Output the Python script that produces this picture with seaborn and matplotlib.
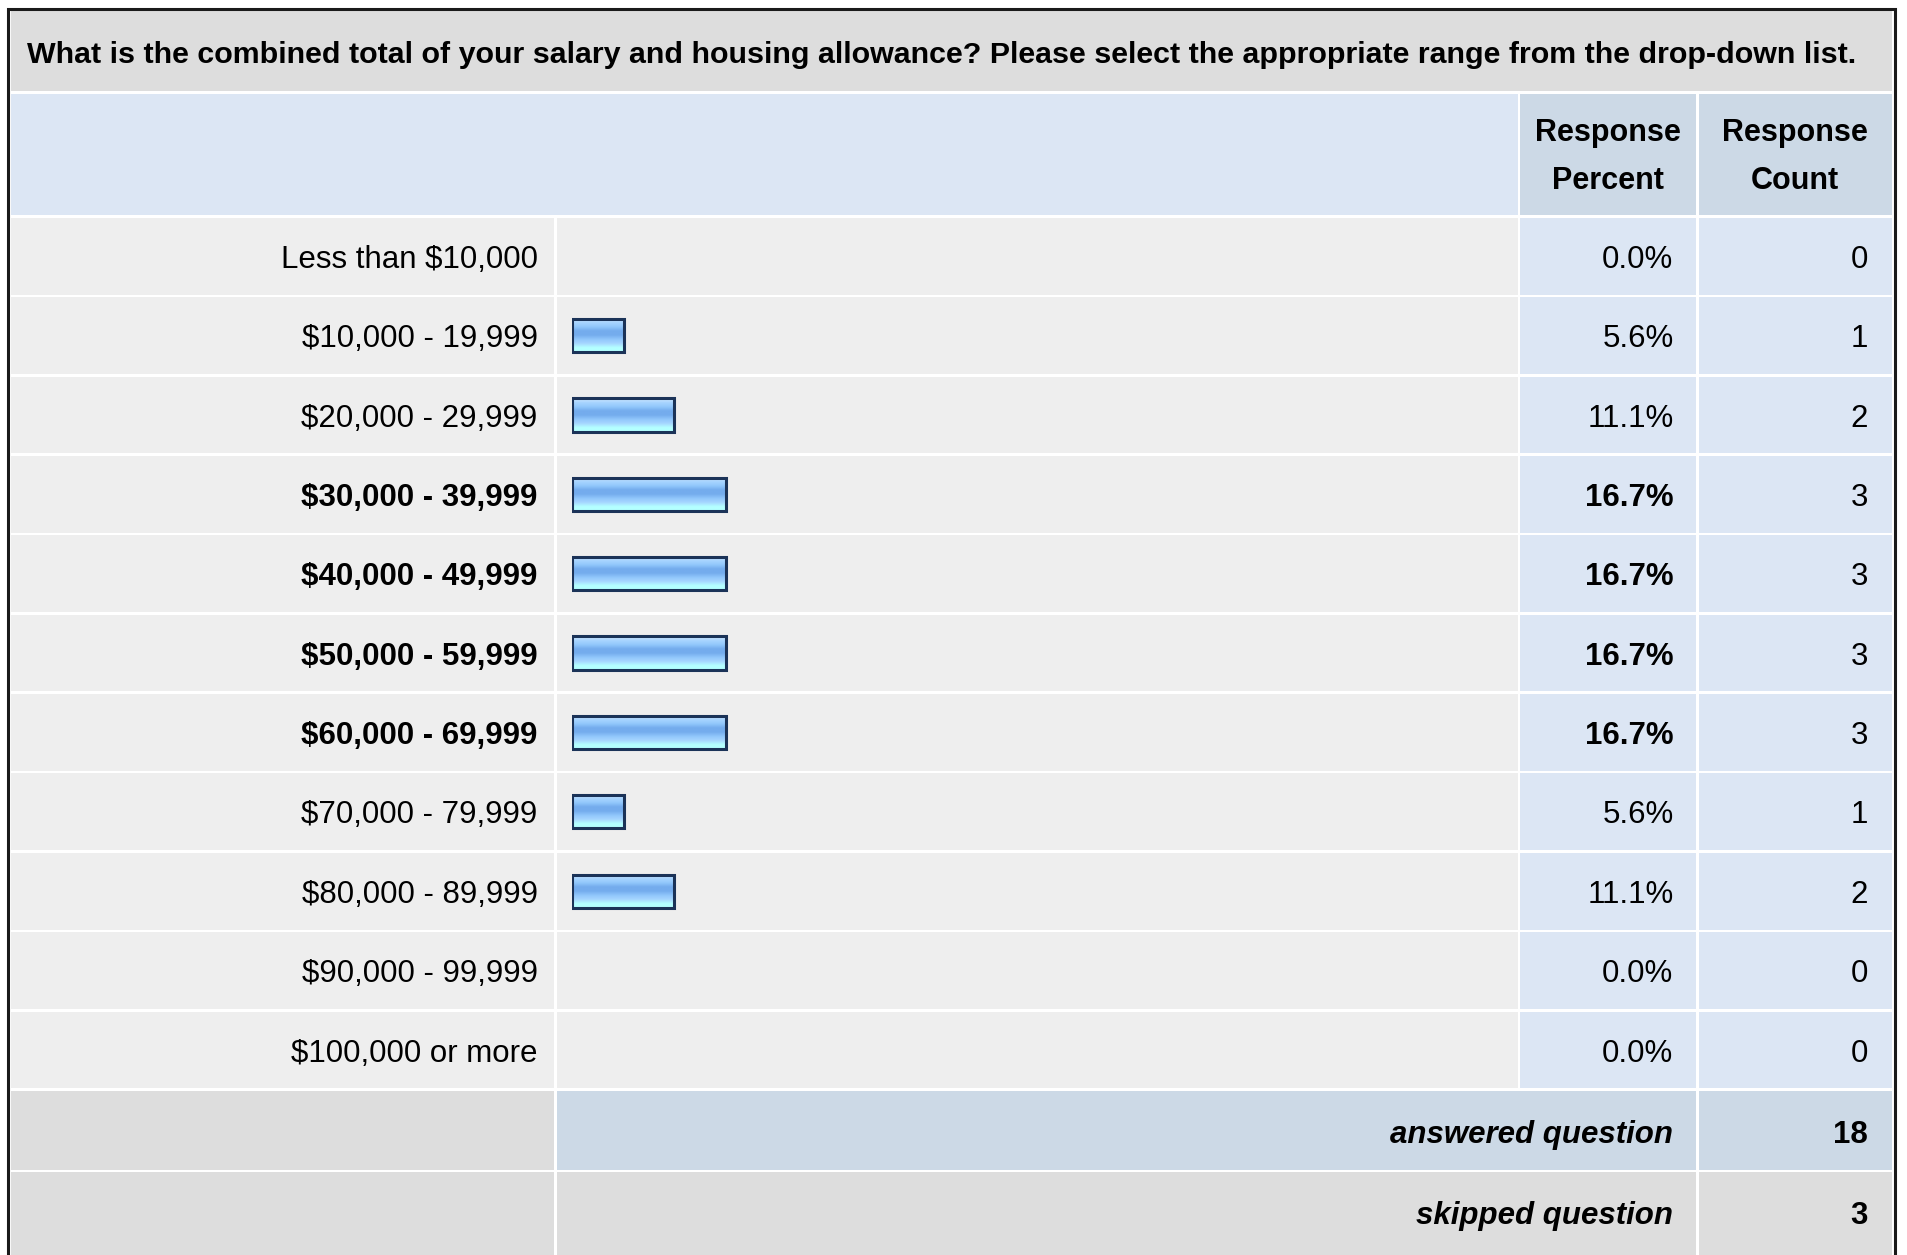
import numpy as np
import pandas as pd
import matplotlib
matplotlib.use('Agg')
import matplotlib.pyplot as plt
import seaborn as sns
from matplotlib.patches import Rectangle
from matplotlib.colors import LinearSegmentedColormap

# Data from the survey table
question = ('What is the combined total of your salary and housing allowance? '
            'Please select the appropriate range from the drop-down list.')
ranges = ['Less than $10,000', '$10,000 - 19,999', '$20,000 - 29,999', '$30,000 - 39,999',
          '$40,000 - 49,999', '$50,000 - 59,999', '$60,000 - 69,999', '$70,000 - 79,999',
          '$80,000 - 89,999', '$90,000 - 99,999', '$100,000 or more']
percents = [0.0, 5.6, 11.1, 16.7, 16.7, 16.7, 16.7, 5.6, 11.1, 0.0, 0.0]
counts = [0, 1, 2, 3, 3, 3, 3, 1, 2, 0, 0]
answered = 18
skipped = 3

df = pd.DataFrame({'range': ranges, 'percent': percents, 'count': counts})
top = df['count'].max()

sns.set_theme(style='white')
plt.rcParams['font.family'] = ['Liberation Sans', 'DejaVu Sans']

W, H = 1568, 1032  # layout units (scaled to the output size)
fig = plt.figure(figsize=(19.07, 12.55), dpi=100)
bg = fig.add_axes([0, 0, 1, 1])
bg.set_xlim(0, W)
bg.set_ylim(H, 0)
bg.axis('off')

cols = [8, 457, 1249, 1396, 1557]
row_top = 178
row_h = (896 - 178) / len(ranges)
gap = 1.1
fs = 22.5


def cell(x0, x1, y0, y1, color):
    bg.add_patch(Rectangle((x0 + gap, y0 + gap), x1 - x0 - 2 * gap, y1 - y0 - 2 * gap,
                           facecolor=color, edgecolor='none', zorder=1))


# title band and header
cell(cols[0], cols[4], 8, 76, '#dddddd')
cell(cols[0], cols[2], 76, row_top, '#dce6f4')
cell(cols[2], cols[3], 76, row_top, '#ccd9e6')
cell(cols[3], cols[4], 76, row_top, '#ccd9e6')

bg.text(22, 45, question, ha='left', va='center', fontsize=21.9, fontweight='bold', color='#000000')
bg.text(1322, 129, 'Response\nPercent', ha='center', va='center', fontsize=22,
        fontweight='bold', linespacing=1.78, color='#000000')
bg.text(1476, 129, 'Response\nCount', ha='center', va='center', fontsize=22,
        fontweight='bold', linespacing=1.78, color='#000000')

# data rows
for i, row in df.iterrows():
    y0 = row_top + i * row_h
    y1 = y0 + row_h
    cell(cols[0], cols[1], y0, y1, '#eeeeee')
    cell(cols[1], cols[2], y0, y1, '#eeeeee')
    cell(cols[2], cols[3], y0, y1, '#dce6f4')
    cell(cols[3], cols[4], y0, y1, '#dce6f4')
    yc = (y0 + y1) / 2 + 3
    wt = 'bold' if row['count'] == top else 'normal'
    bg.text(442, yc, row['range'], ha='right', va='center', fontsize=fs, fontweight=wt, color='#000000')
    bg.text(1376, yc, f"{row['percent']:.1f}%", ha='right', va='center', fontsize=fs,
            fontweight=wt, color='#000000')
    bg.text(1536, yc, str(row['count']), ha='right', va='center', fontsize=fs, color='#000000')

# answered / skipped rows
y_ans = 896
cell(cols[0], cols[1], y_ans, y_ans + 67, '#dddddd')
cell(cols[1], cols[3], y_ans, y_ans + 67, '#ccd9e6')
cell(cols[3], cols[4], y_ans, y_ans + 67, '#ccd9e6')
cell(cols[0], cols[1], y_ans + 67, H + 5, '#dddddd')
cell(cols[1], cols[3], y_ans + 67, H + 5, '#dddddd')
cell(cols[3], cols[4], y_ans + 67, H + 5, '#dddddd')
bg.text(1376, y_ans + 37, 'answered question', ha='right', va='center', fontsize=fs,
        fontweight='bold', fontstyle='italic', color='#000000')
bg.text(1536, y_ans + 37, str(answered), ha='right', va='center', fontsize=fs,
        fontweight='bold', color='#000000')
bg.text(1376, y_ans + 104, 'skipped question', ha='right', va='center', fontsize=fs,
        fontweight='bold', fontstyle='italic', color='#000000')
bg.text(1536, y_ans + 104, str(skipped), ha='right', va='center', fontsize=fs,
        fontweight='bold', color='#000000')

# outer border
bg.plot([6.5, 6.5, 1558.5, 1558.5], [H + 5, 7, 7, H + 5], color='#1a1a1a', lw=2.2,
        solid_joinstyle='miter', zorder=5)

# bars
bx0, bx100 = 470.5, 470.5 + 757
bar_ax = fig.add_axes([bx0 / W, 1 - 896 / H, (bx100 - bx0) / W, (896 - row_top) / H])
sns.barplot(data=df, x='percent', y='range', orient='h', ax=bar_ax, width=0.42,
            color='#8ec5fa', edgecolor='#1b3358', linewidth=2.2, errorbar=None)
bar_ax.set_xlim(0, 100)
bar_ax.set_ylim(len(ranges) - 0.5, -0.5)
bar_ax.axis('off')
bar_ax.patch.set_alpha(0)

grad_cmap = LinearSegmentedColormap.from_list(
    'bar', ['#d2eaff', '#a8d4ff', '#92c8fc', '#74aced', '#74aced', '#90c6fb', '#a6d6ff', '#b4ffff', '#b4ffff'])
grad = np.linspace(0, 1, 64).reshape(-1, 1)
for p in bar_ax.patches:
    w = p.get_width()
    if w <= 0:
        p.set_visible(False)
        continue
    x0, y0, h = p.get_x(), p.get_y(), p.get_height()
    bar_ax.imshow(grad, cmap=grad_cmap, aspect='auto', extent=[x0, x0 + w, y0 + h, y0],
                  origin='upper', zorder=2, interpolation='bilinear')
    p.set_facecolor('none')
    p.set_zorder(3)
bar_ax.set_xlim(0, 100)
bar_ax.set_ylim(len(ranges) - 0.5, -0.5)

fig.savefig('out.png', dpi=100, facecolor='white')
